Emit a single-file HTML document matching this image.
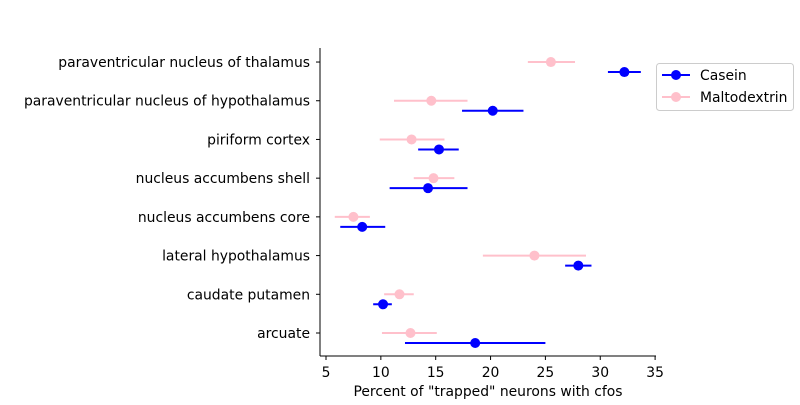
<!DOCTYPE html>
<html><head><meta charset="utf-8"><style>
body{margin:0;background:#fff;}
svg{font-family:"DejaVu Sans","Liberation Sans",sans-serif;}
</style></head><body>
<svg id="chart" width="800" height="400">
<g id="g"></g>
</svg>
<script>
const categories=["arcuate","caudate putamen","lateral hypothalamus","nucleus accumbens core","nucleus accumbens shell","piriform cortex","paraventricular nucleus of hypothalamus","paraventricular nucleus of thalamus"];
const caseinMean=[18.6,10.2,28.0,8.3,14.3,15.3,20.2,32.2];
const caseinLow=[12.2,9.3,26.8,6.3,10.8,13.4,17.4,30.7];
const caseinHigh=[25.0,11.0,29.2,10.4,17.9,17.1,23.0,33.7];
const maltoMean=[12.7,11.7,24.0,7.5,14.8,12.8,14.6,25.5];
const maltoLow=[10.1,10.3,19.3,5.8,13.0,9.9,11.2,23.4];
const maltoHigh=[15.1,13.0,28.7,9.0,16.7,15.8,17.9,27.7];
const xTicks=[5,10,15,20,25,30,35];
const NS="http://www.w3.org/2000/svg";
const g=document.getElementById('g');
const X=v=>326+(v-5)*10.97;
const Y=i=>333-i*38.71;
const FS=13.9;
function mk(t,a,txt){const e=document.createElementNS(NS,t);for(const k in a)e.setAttribute(k,a[k]);if(txt!==undefined)e.textContent=txt;g.appendChild(e);return e;}
let e;
e=mk('line',{x1:320,y1:48,x2:320,y2:356,stroke:'#000','stroke-width':1});


e=mk('line',{x1:320,y1:356,x2:656,y2:356,stroke:'#000','stroke-width':1});


xTicks.forEach(t=>{
 e=mk('line',{x1:X(t),y1:356,x2:X(t),y2:360,stroke:'#000'});
 
 
 e=mk('text',{x:X(t),y:377,'text-anchor':'middle','font-size':FS},String(t));
 
 
});
e=mk('text',{x:488,y:396,'text-anchor':'middle','font-size':FS},'Percent of "trapped" neurons with cfos');


categories.forEach((c,i)=>{
 e=mk('line',{x1:316,y1:Y(i),x2:320,y2:Y(i),stroke:'#000'});
 
 
 e=mk('text',{x:310,y:Y(i)+5,'text-anchor':'end','font-size':FS},c);
 
 
});
function series(mean,lo,hi,color,off,name){
 mean.forEach((m,i)=>{
  const y=Y(i)+off;
  e=mk('line',{x1:X(lo[i]),y1:y,x2:X(hi[i]),y2:y,stroke:color,'stroke-width':2});
  
  
  e=mk('circle',{cx:X(m),cy:y,r:5,fill:color});
  
  
 });
}
series(maltoMean,maltoLow,maltoHigh,'#ffc0cb',0,'maltodextrin');
series(caseinMean,caseinLow,caseinHigh,'#0000ff',10,'casein');
e=mk('rect',{x:656.5,y:63.5,width:137,height:47,rx:3,fill:'#fff',stroke:'#ccc'});


[['Casein','#0000ff',75],['Maltodextrin','#ffc0cb',97]].forEach(([n,c,y])=>{
 e=mk('line',{x1:662,y1:y,x2:690,y2:y,stroke:c,'stroke-width':2});
 
 
 e=mk('circle',{cx:676,cy:y,r:5,fill:c});
 
 
 e=mk('text',{x:700,y:y+5,'font-size':FS},n);
 
 
});
</script>
</body></html>
